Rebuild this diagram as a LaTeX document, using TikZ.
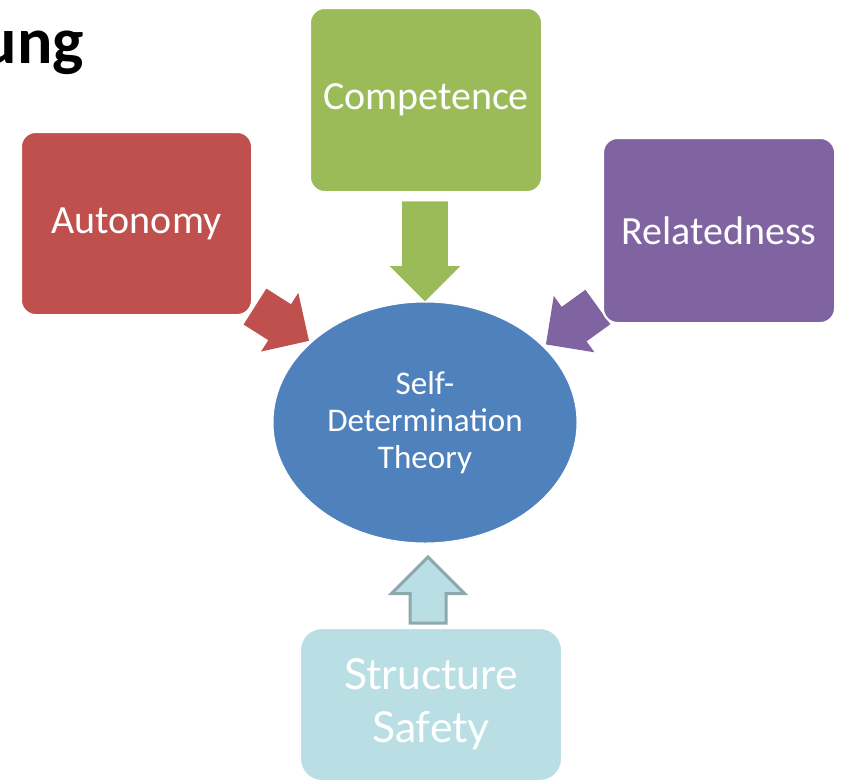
\documentclass[tikz,border=0pt]{standalone}
\usepackage{fontspec}
\setmainfont{Carlito}
\newfontfamily\gillfont{Lato}
\usetikzlibrary{shapes.arrows, shapes.geometric}
\definecolor{AutoRed}{HTML}{C0504D}
\definecolor{CompGreen}{HTML}{9BBB59}
\definecolor{RelPurple}{HTML}{8064A2}
\definecolor{SdtBlue}{HTML}{4F81BD}
\definecolor{SafeAqua}{HTML}{B9DFE4}
\definecolor{SafeEdge}{HTML}{8DA9AB}

\begin{document}
\begin{tikzpicture}[x=0.75pt,y=0.75pt,yscale=-1,xscale=1,
	needbox/.style={rectangle, rounded corners=11pt, draw=white, line width=1.5pt, text=white, inner sep=0pt, font=\fontsize{30}{36}\selectfont},
	blockarrow/.style={single arrow, inner xsep=0pt, single arrow tip angle=90}
	]
	\useasboundingbox (0,0) rectangle (841,782);

	% Title Node
	\node [anchor=base east, inner sep=0pt, font=\fontsize{49.5}{60}\selectfont\bfseries] (title) at (84,63) {ung};

	%Block Arrows [id:toCompetence]
	\node [blockarrow, fill=CompGreen, minimum height=75pt, inner ysep=16.875pt, single arrow head extend=9.375pt, rotate=-90] (compArrow) at (425,240) {};
	%Block Arrows [id:toAutonomy]
	\node [blockarrow, fill=AutoRed, minimum height=48pt, inner ysep=15.75pt, single arrow head extend=10.125pt, rotate=-32.4] (autoArrow) at (273,318) {};
	%Block Arrows [id:toRelatedness]
	\node [blockarrow, fill=RelPurple, minimum height=48pt, inner ysep=15.75pt, single arrow head extend=10.125pt, rotate=-144.2] (relArrow) at (580.5,319.5) {};

	%Shape: Rounded Rect [id:competence]
	\node [needbox, fill=CompGreen, minimum width=174pt, minimum height=138pt] (comp) at (426,100) {Competence};
	%Shape: Rounded Rect [id:autonomy]
	\node [needbox, fill=AutoRed, minimum width=173.25pt, minimum height=137.25pt] (auto) at (136.5,223.5) {Autonomy};
	%Shape: Rounded Rect [id:relatedness]
	\node [needbox, fill=RelPurple, minimum width=174pt, minimum height=138.75pt] (rel) at (719,230.5) {Relatedness};

	%Shape: Ellipse [id:sdt]
	\node [ellipse, fill=SdtBlue, draw=white, line width=0.75pt, inner sep=0pt, minimum width=228pt, minimum height=180.75pt, text=white, align=center, font=\fontsize{24.8}{27.75}\selectfont] (sdt) at (425,422.5) {Self-\\Determination\\Theory};

	%Shape: Rounded Rect [id:structure]
	\node [needbox, fill=SafeAqua, rounded corners=16.5pt, minimum width=196.5pt, minimum height=114.75pt, align=center, font=\gillfont\fontsize{32}{40}\selectfont] (safe) at (431,704.5) {Structure\\Safety};
	%Block Arrows [id:toStructure]
	\node [blockarrow, fill=SafeAqua, draw=SafeEdge, line width=2.25pt, minimum height=49.5pt, inner ysep=12.375pt, single arrow head extend=13.875pt, rotate=90] (safeArrow) at (428,599) {};

\end{tikzpicture}
\end{document}
